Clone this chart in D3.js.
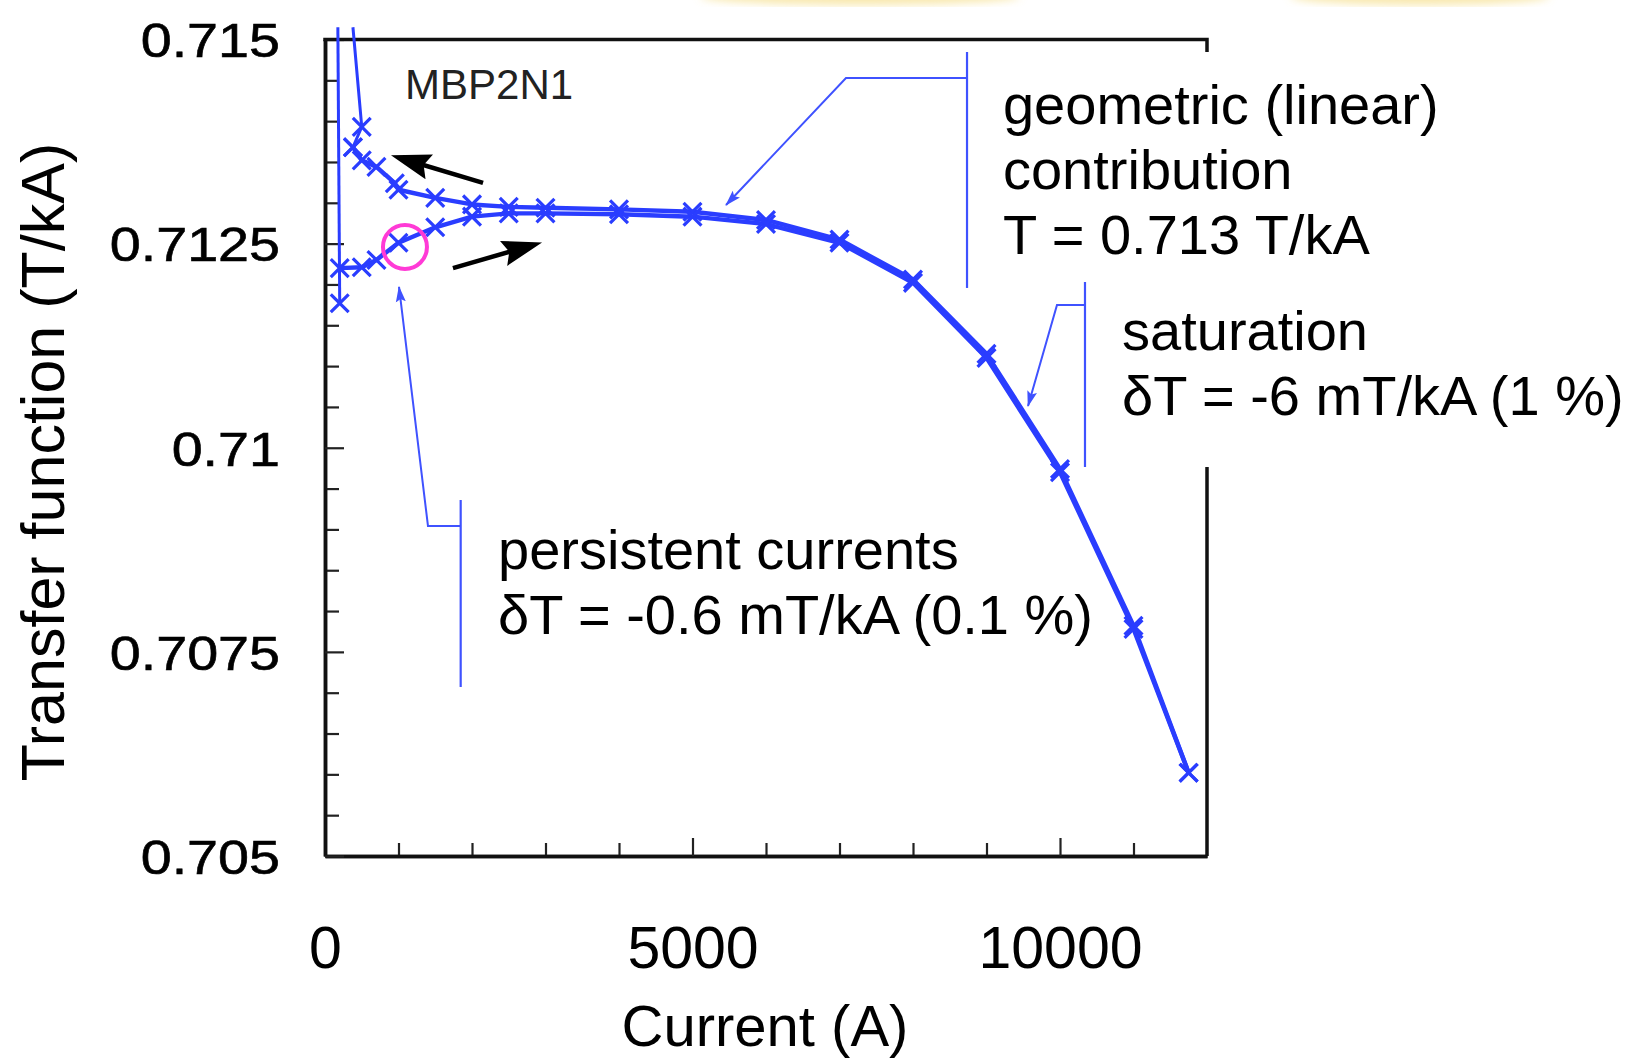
<!DOCTYPE html>
<html>
<head>
<meta charset="utf-8">
<script src="https://cdn.jsdelivr.net/npm/d3@7"></script>
<style>
  body { margin: 0; background: #fff; }
  svg { display: block; font-family: "Liberation Sans", Arial, Helvetica, sans-serif; }
</style>
</head>
<body>
<svg id="chart" width="1627" height="1059"></svg>
<script>
//================ DATA ================================================
// first injection ramp: comes in from above the frame down to the first point
const preCurrent = [175, 200];
const preTF      = [0.71515, 0.71177];

// up-ramp (lower branch)
const upCurrent = [200, 500, 700, 1000, 1500, 2000, 2500, 3000, 4000, 5000, 6000, 7000, 8000, 9000, 10000, 11000, 11750];
const upTF      = [0.71220, 0.71221, 0.71230, 0.71251, 0.71270, 0.71283, 0.71287, 0.71287, 0.71286, 0.71283,
                   0.71274, 0.71251, 0.71202, 0.71110, 0.70970, 0.70778, 0.70602];

// down-ramp (upper branch)
const downCurrent = [11750, 11000, 10000, 9000, 8000, 7000, 6000, 5000, 4000, 3000, 2500, 2000, 1500, 1000, 950, 700, 500, 380];
const downTF      = [0.70602, 0.70782, 0.70974, 0.71115, 0.71206, 0.71255, 0.71279, 0.71289, 0.71292, 0.71294,
                     0.71295, 0.71298, 0.71306, 0.71316, 0.71324, 0.71344, 0.71352, 0.71368];

// last low-current points, going back out of the frame
const resetCurrent = [380, 500, 380];
const resetTF      = [0.71368, 0.71393, 0.71515];

// axes
const xMajorTicks = [0, 5000, 10000];
const xMinorTicks = [1000, 2000, 3000, 4000, 6000, 7000, 8000, 9000, 11000];
const xTickLabels = ['0', '5000', '10000'];
const yMajorTicks = [0.705, 0.7075, 0.71, 0.7125, 0.715];
const yMinorTicks = [0.7055, 0.706, 0.7065, 0.707, 0.708, 0.7085, 0.709, 0.7095,
                     0.7105, 0.711, 0.7115, 0.712, 0.713, 0.7135, 0.714, 0.7145];
const yTickLabels = ['0.705', '0.7075', '0.71', '0.7125', '0.715'];

// annotation texts
const geoLines = ['geometric (linear)', 'contribution', 'T = 0.713 T/kA'];
const satLines = ['saturation', 'δT = -6 mT/kA (1 %)'];
const pcLines  = ['persistent currents', 'δT = -0.6 mT/kA (0.1 %)'];

//================ SETUP ================================================
const svg = d3.select('#chart');
const blue = '#2a3dff';
const thinBlue = '#3f52ff';
const x = d3.scaleLinear().domain([0, 12000]).range([325, 1207]);
const y = d3.scaleLinear().domain([0.705, 0.715]).range([856, 39.5]);

const defs = svg.append('defs');
defs.append('filter').attr('id', 'soft')
  .append('feGaussianBlur').attr('stdDeviation', 4);
defs.append('marker')
    .attr('id', 'blackHead').attr('markerUnits', 'userSpaceOnUse')
    .attr('markerWidth', 40).attr('markerHeight', 30)
    .attr('viewBox', '0 -12 34 24').attr('refX', 26).attr('refY', 0)
    .attr('orient', 'auto')
  .append('path').attr('d', 'M0,-11L34,0L0,11L5,0Z').attr('fill', '#000');
defs.append('marker')
    .attr('id', 'blueHead').attr('markerUnits', 'userSpaceOnUse')
    .attr('markerWidth', 16).attr('markerHeight', 12)
    .attr('viewBox', '0 -6 16 12').attr('refX', 15).attr('refY', 0)
    .attr('orient', 'auto')
  .append('path').attr('d', 'M0,-5L16,0L0,5L3,0Z').attr('fill', thinBlue);

// faint yellow slide background bits at the very top
svg.append('g').attr('filter', 'url(#soft)').selectAll('ellipse')
  .data([[860, 160], [1420, 130]])
  .join('ellipse')
    .attr('cx', d => d[0]).attr('cy', -4).attr('rx', d => d[1]).attr('ry', 9)
    .attr('fill', '#f3d66a').attr('opacity', 0.55);

//================ AXES ================================================
const axisStyle = g => {
  g.select('.domain').attr('stroke', '#111').attr('stroke-width', 3.5);
  g.selectAll('.tick line').attr('stroke', '#222').attr('stroke-width', 2.2);
};

// minor ticks (no labels)
svg.append('g').attr('transform', `translate(0,${y(0.705)})`)
  .call(d3.axisBottom(x).tickValues(xMinorTicks).tickSize(-13).tickSizeOuter(0).tickFormat(''))
  .call(axisStyle);
svg.append('g').attr('transform', `translate(${x(0)},0)`)
  .call(d3.axisLeft(y).tickValues(yMinorTicks).tickSize(-14).tickSizeOuter(0).tickFormat(''))
  .call(axisStyle);

// major ticks with labels
const gx = svg.append('g').attr('transform', `translate(0,${y(0.705)})`)
  .call(d3.axisBottom(x).tickValues(xMajorTicks).tickSize(-18).tickSizeOuter(0)
        .tickPadding(70).tickFormat((d, i) => xTickLabels[i]))
  .call(axisStyle);
gx.selectAll('.tick text').attr('font-size', 59).attr('fill', '#000')
  .attr('font-family', '"Liberation Sans", Arial, sans-serif');

const gy = svg.append('g').attr('transform', `translate(${x(0)},0)`)
  .call(d3.axisLeft(y).tickValues(yMajorTicks).tickSize(-19).tickSizeOuter(0)
        .tickFormat((d, i) => yTickLabels[i]))
  .call(axisStyle);
// the y labels are drawn wide in the original
gy.selectAll('.tick text')
  .attr('font-size', 48).attr('fill', '#000')
  .attr('stroke', '#000').attr('stroke-width', 0.6)
  .attr('font-family', '"Liberation Sans", Arial, sans-serif')
  .attr('x', -45 / 1.16).attr('dy', '0.36em')
  .attr('transform', 'scale(1.16,1)');

// top and right frame lines
svg.append('path')
  .attr('d', `M${x(0) - 1.75},${y(0.715)}H${x(12000)}V${y(0.705)}`)
  .attr('fill', 'none').attr('stroke', '#111').attr('stroke-width', 3.5);

// axis titles
svg.append('text')
  .attr('x', 765).attr('y', 1046).attr('text-anchor', 'middle')
  .attr('font-size', 58).text('Current (A)');
svg.append('text')
  .attr('transform', 'translate(64,462) rotate(-90)').attr('text-anchor', 'middle')
  .attr('font-size', 61).text('Transfer function (T/kA)');

//================ DATA LINES ==========================================
const line = d3.line().x(d => x(d[0])).y(d => y(d[1]));
const series = [
  {pts: d3.zip(preCurrent, preTF), w: 3},
  {pts: d3.zip(resetCurrent, resetTF), w: 3},
  {pts: d3.zip(downCurrent, downTF), w: 4.4},
  {pts: d3.zip(upCurrent, upTF), w: 4.4}
];
const plot = svg.append('g');
plot.selectAll('path.curve')
  .data(series)
  .join('path').attr('class', 'curve')
    .attr('d', d => line(d.pts))
    .attr('fill', 'none').attr('stroke', blue)
    .attr('stroke-width', d => d.w).attr('stroke-linejoin', 'round');

const crossPts = series.flatMap(s => s.pts).filter(p => p[1] <= 0.715);
plot.selectAll('path.cross')
  .data(crossPts)
  .join('path').attr('class', 'cross')
    .attr('transform', d => `translate(${x(d[0])},${y(d[1])})`)
    .attr('d', d3.symbol(d3.symbolTimes, 210))
    .attr('fill', 'none').attr('stroke', blue).attr('stroke-width', 3.2);

// MBP2N1 label
svg.append('text')
  .attr('x', x(1090)).attr('y', y(0.714276))
  .attr('font-size', 42).attr('fill', '#222').text('MBP2N1');

// pink circle around the persistent current point
svg.append('circle')
  .attr('cx', x(1088)).attr('cy', y(0.712459)).attr('r', 22)
  .attr('fill', 'none').attr('stroke', '#ff3ad6').attr('stroke-width', 4);

// black ramp-direction arrows
const rampArrows = [
  [[2150, 0.713243], [1020, 0.713549]],
  [[1741, 0.712201], [2830, 0.712483]]
];
svg.selectAll('line.ramp')
  .data(rampArrows)
  .join('line').attr('class', 'ramp')
    .attr('x1', d => x(d[0][0])).attr('y1', d => y(d[0][1]))
    .attr('x2', d => x(d[1][0])).attr('y2', d => y(d[1][1]))
    .attr('stroke', '#000').attr('stroke-width', 4.5)
    .attr('marker-end', 'url(#blackHead)');

//================ CALLOUTS ============================================
// each callout: bracket at left of a text block, stub, leader to the curve
function callout({left, top, bottom, stubY, stubX, tip, textX, firstBase, lines, cover}) {
  const g = svg.append('g');
  if (cover) {
    g.append('rect')
      .attr('x', x(left) + 2).attr('y', y(top))
      .attr('width', cover).attr('height', y(bottom) - y(top))
      .attr('fill', '#fff');
  }
  g.append('line')
    .attr('x1', x(left)).attr('x2', x(left))
    .attr('y1', y(top)).attr('y2', y(bottom))
    .attr('stroke', thinBlue).attr('stroke-width', 2.2);
  g.append('path')
    .attr('d', `M${x(left)},${y(stubY)}H${x(stubX)}L${x(tip[0])},${y(tip[1])}`)
    .attr('fill', 'none').attr('stroke', thinBlue).attr('stroke-width', 2)
    .attr('marker-end', 'url(#blueHead)');
  const t = g.append('text')
    .attr('x', x(textX)).attr('y', y(firstBase))
    .attr('font-size', 56).attr('fill', '#000');
  t.selectAll('tspan')
    .data(lines)
    .join('tspan')
      .attr('x', x(textX)).attr('dy', (d, i) => i ? 65 : 0)
      .text(d => d);
}

callout({left: 8735, top: 0.714847, bottom: 0.711957, stubY: 0.714528, stubX: 7088,
         tip: [5456, 0.712973], textX: 9224, firstBase: 0.713959, lines: geoLines, cover: 500});
callout({left: 10340, top: 0.712030, bottom: 0.709764, stubY: 0.711748, stubX: 9959,
         tip: [9565, 0.710512], textX: 10844, firstBase: 0.711197, lines: satLines, cover: 560});
callout({left: 1846, top: 0.709360, bottom: 0.707070, stubY: 0.709042, stubX: 1401,
         tip: [1007, 0.711969], textX: 2354, firstBase: 0.708517, lines: pcLines, cover: 0});
</script>
</body>
</html>
